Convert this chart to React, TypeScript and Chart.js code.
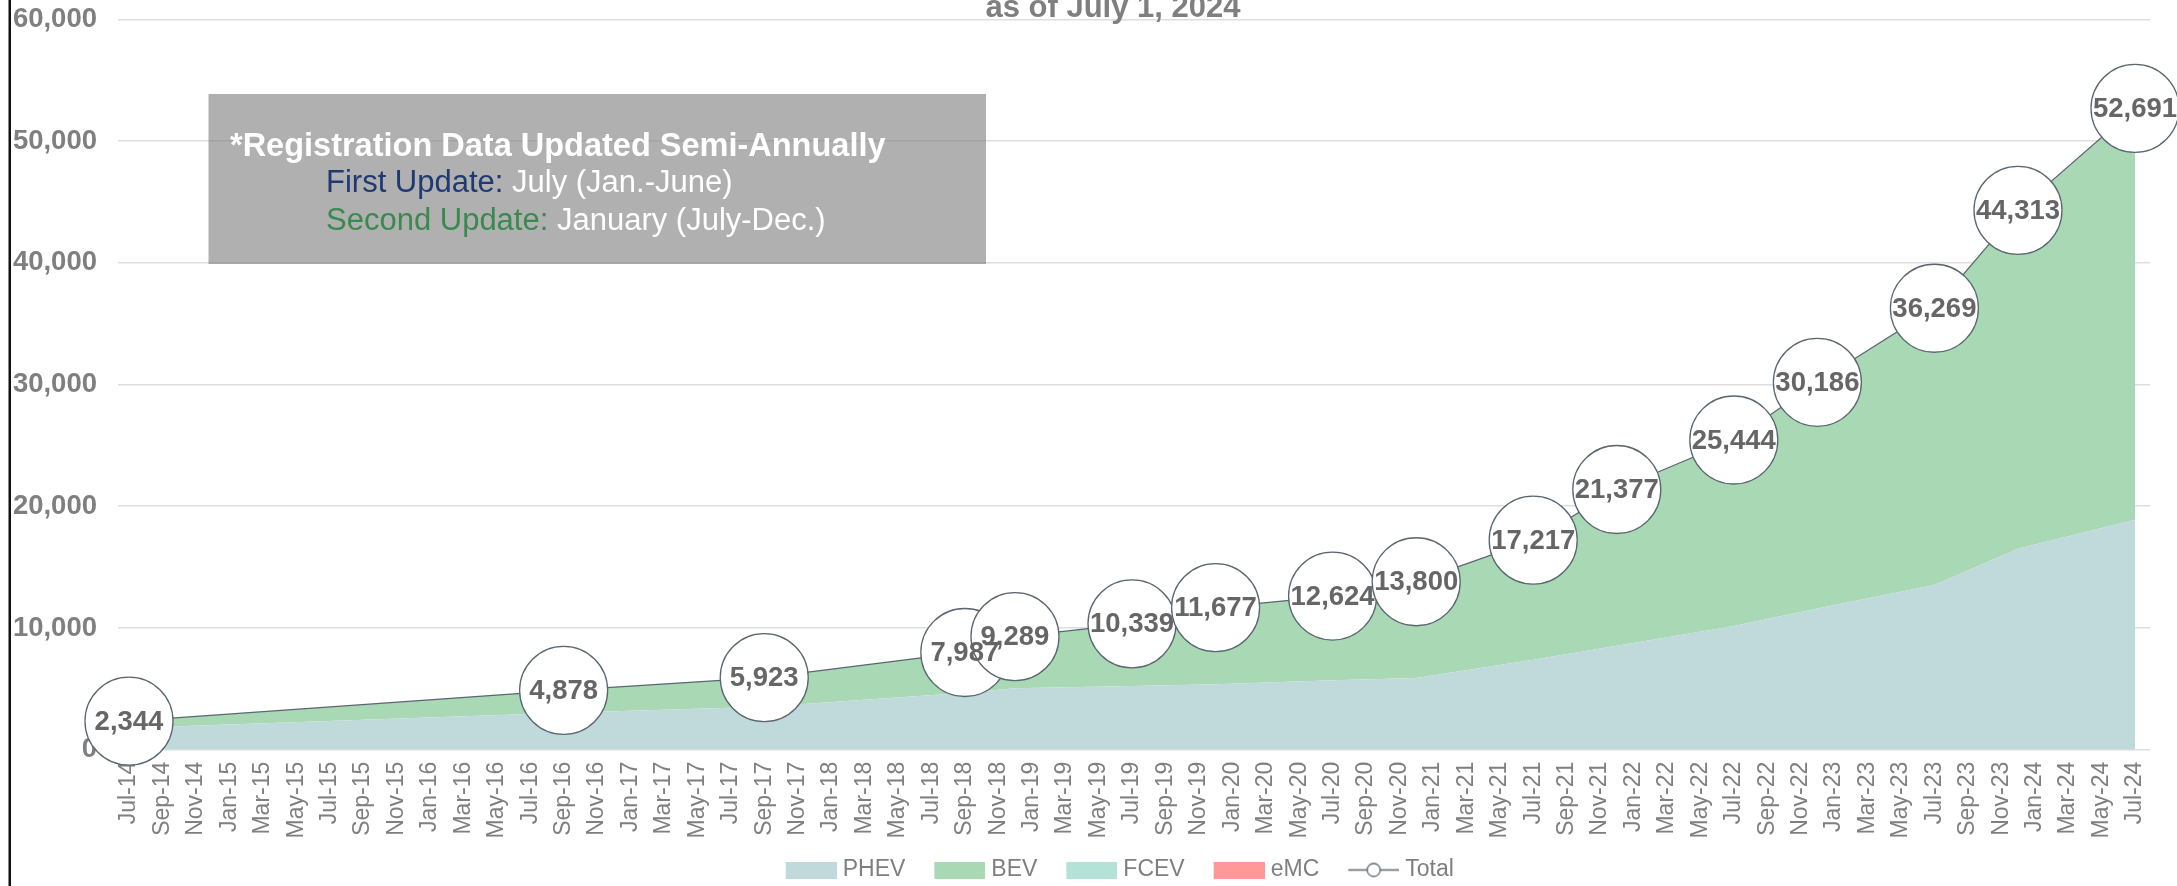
import React, { useEffect, useRef } from 'react';
import { Chart, registerables } from 'chart.js';

Chart.register(...registerables);

// ---------- data ----------
const tickLabels = [
  'Jul-14', 'Sep-14', 'Nov-14', 'Jan-15', 'Mar-15', 'May-15', 'Jul-15', 'Sep-15', 'Nov-15',
  'Jan-16', 'Mar-16', 'May-16', 'Jul-16', 'Sep-16', 'Nov-16', 'Jan-17', 'Mar-17', 'May-17',
  'Jul-17', 'Sep-17', 'Nov-17', 'Jan-18', 'Mar-18', 'May-18', 'Jul-18', 'Sep-18', 'Nov-18',
  'Jan-19', 'Mar-19', 'May-19', 'Jul-19', 'Sep-19', 'Nov-19', 'Jan-20', 'Mar-20', 'May-20',
  'Jul-20', 'Sep-20', 'Nov-20', 'Jan-21', 'Mar-21', 'May-21', 'Jul-21', 'Sep-21', 'Nov-21',
  'Jan-22', 'Mar-22', 'May-22', 'Jul-22', 'Sep-22', 'Nov-22', 'Jan-23', 'Mar-23', 'May-23',
  'Jul-23', 'Sep-23', 'Nov-23', 'Jan-24', 'Mar-24', 'May-24', 'Jul-24',
];

const pointDates = [
  'Jul-14', 'Sep-16', 'Sep-17', 'Sep-18', 'Dec-18', 'Jul-19', 'Dec-19', 'Jul-20',
  'Dec-20', 'Jul-21', 'Dec-21', 'Jul-22', 'Dec-22', 'Jul-23', 'Dec-23', 'Jul-24',
];

const phev = [1790, 3030, 3530, 4670, 5050, 5230, 5370, 5700, 5890, 7400, 8550, 10160, 11600, 13530, 16500, 18900];
const bev = [554, 1848, 2393, 3317, 4239, 5109, 6307, 6924, 7910, 9816, 12816, 15263, 18554, 22697, 27761, 33729];
const fcev = [0, 0, 0, 0, 0, 0, 0, 0, 0, 1, 1, 1, 2, 2, 2, 2];
const emc = [0, 0, 0, 0, 0, 0, 0, 0, 0, 0, 10, 20, 30, 40, 50, 60];
const total = [2344, 4878, 5923, 7987, 9289, 10339, 11677, 12624, 13800, 17217, 21377, 25444, 30186, 36269, 44313, 52691];

const yTicks = [0, 10000, 20000, 30000, 40000, 50000, 60000];

const seriesNames = ['PHEV', 'BEV', 'FCEV', 'eMC', 'Total'];
const areaColors = ['#C0DADB', '#A8D8B4', '#B3E3D6', '#FF9999'];
const totalColor = '#5b6670';

const titleText = 'as of July 1, 2024';
const noteHeader = '*Registration Data Updated Semi-Annually';
const noteRows = [
  { label: 'First Update:', value: ' July (Jan.-June)', color: '#1f3a73' },
  { label: 'Second Update:', value: ' January (July-Dec.)', color: '#3a8a4f' },
];

// ---------- helpers ----------
const MONTHS = ['Jan', 'Feb', 'Mar', 'Apr', 'May', 'Jun', 'Jul', 'Aug', 'Sep', 'Oct', 'Nov', 'Dec'];
function monthIndexOf(label: string): number {
  const [m, y] = label.split('-');
  return (2000 + Number(y) - 2014) * 12 + MONTHS.indexOf(m) - 6;
}
const labelByIndex: Record<number, string> = {};
tickLabels.forEach((l) => { labelByIndex[monthIndexOf(l)] = l; });

const FONT = '"Liberation Sans", Arial, Helvetica, sans-serif';
const W = 2177;
const H = 886;
const ICON_LEAD = 17;
const ICON_W = 51 + ICON_LEAD;

function makeSwatch(color: string): HTMLCanvasElement {
  const c = document.createElement('canvas');
  c.width = ICON_W; c.height = 17;
  const g = c.getContext('2d')!;
  g.fillStyle = color;
  g.fillRect(ICON_LEAD, 0, 51, 17);
  return c;
}
function makeLineIcon(color: string): HTMLCanvasElement {
  const c = document.createElement('canvas');
  c.width = ICON_W; c.height = 17;
  const g = c.getContext('2d')!;
  g.strokeStyle = color;
  g.lineWidth = 1.3;
  g.beginPath(); g.moveTo(ICON_LEAD, 8.5); g.lineTo(ICON_LEAD + 51, 8.5); g.stroke();
  g.beginPath(); g.arc(ICON_LEAD + 25.5, 8.5, 6.5, 0, Math.PI * 2);
  g.fillStyle = '#ffffff'; g.fill(); g.stroke();
  return c;
}

const decorPlugin = {
  id: 'decor',
  afterLayout(chart: any) {
    const lg = chart.legend;
    if (lg) {
      lg.left += 33; lg.right += 33;
      lg.top -= 2; lg.bottom -= 2;
    }
  },
  afterDatasetsDraw(chart: any) {
    const ctx = chart.ctx as CanvasRenderingContext2D;
    const meta = chart.getDatasetMeta(4);
    ctx.save();
    ctx.font = `bold 27.5px ${FONT}`;
    ctx.fillStyle = '#666666';
    ctx.textAlign = 'center';
    ctx.textBaseline = 'middle';
    meta.data.forEach((pt: any, i: number) => {
      ctx.fillText(total[i].toLocaleString('en-US'), pt.x, pt.y + 1);
    });
    ctx.restore();
  },
  afterDraw(chart: any) {
    const ctx = chart.ctx as CanvasRenderingContext2D;
    ctx.save();
    // title (partly cut at top)
    ctx.font = `bold 31px ${FONT}`;
    ctx.fillStyle = '#7f7f7f';
    ctx.textAlign = 'center';
    ctx.textBaseline = 'alphabetic';
    ctx.fillText(titleText, 1113, 17);

    // note box
    ctx.fillStyle = 'rgba(127,127,127,0.62)';
    ctx.fillRect(208.5, 94, 777.5, 170);
    ctx.textAlign = 'left';
    ctx.font = `bold 32.5px ${FONT}`;
    ctx.fillStyle = '#ffffff';
    ctx.fillText(noteHeader, 230, 156);
    ctx.font = `31px ${FONT}`;
    noteRows.forEach((r, i) => {
      const y = 192 + i * 38;
      ctx.fillStyle = r.color;
      ctx.fillText(r.label, 326, y);
      const w = ctx.measureText(r.label).width;
      ctx.fillStyle = '#ffffff';
      ctx.fillText(r.value, 326 + w, y);
    });

    // left frame line
    ctx.fillStyle = '#111111';
    ctx.fillRect(8.5, 0, 2.5, H);
    ctx.restore();
  },
};

export default function App() {
  const ref = useRef<HTMLCanvasElement>(null);

  useEffect(() => {
    const canvas = ref.current;
    if (!canvas) return;
    const xs = pointDates.map(monthIndexOf);
    const toPts = (arr: number[]) => arr.map((v, i) => ({ x: xs[i], y: v }));
    const icons = [...areaColors.map(makeSwatch), makeLineIcon(totalColor)];

    const areaSeries = [phev, bev, fcev, emc];
    const datasets: any[] = areaSeries.map((arr, i) => ({
      label: seriesNames[i],
      data: toPts(arr),
      backgroundColor: areaColors[i],
      borderColor: areaColors[i],
      borderWidth: 0,
      pointRadius: 0,
      pointHoverRadius: 0,
      fill: i === 0 ? 'origin' : '-1',
      stack: 'parts',
      tension: 0,
    }));
    datasets.push({
      label: seriesNames[4],
      data: toPts(total),
      borderColor: totalColor,
      borderWidth: 1.3,
      backgroundColor: '#ffffff',
      pointRadius: 44,
      pointHoverRadius: 44,
      pointBackgroundColor: '#ffffff',
      pointBorderColor: totalColor,
      pointBorderWidth: 1.3,
      fill: false,
      clip: false,
      stack: 'total',
      order: -1,
      tension: 0,
    });

    const chart = new Chart(canvas, {
      type: 'line',
      data: { datasets },
      plugins: [decorPlugin as any],
      options: {
        responsive: false,
        animation: false,
        devicePixelRatio: 1,
        events: [],
        layout: { autoPadding: false, padding: { top: 19.4, left: 12, right: 27, bottom: 0 } },
        scales: {
          x: {
            type: 'linear',
            min: -0.658,
            max: 120.897,
            grid: { display: false, drawTicks: false },
            border: { display: false },
            afterBuildTicks: (scale: any) => {
              scale.ticks = tickLabels.map((l) => ({ value: monthIndexOf(l) }));
            },
            afterFit: (scale: any) => {
              scale.paddingLeft = 0;
              scale.paddingRight = 0;
              scale.height = 93.3;
            },
            ticks: {
              autoSkip: false,
              minRotation: 90,
              maxRotation: 90,
              padding: 12,
              color: '#7f7f7f',
              font: { family: FONT, size: 23 },
              callback: (v: any) => labelByIndex[Math.round(Number(v))] ?? '',
            },
          },
          y: {
            stacked: true,
            min: 0,
            max: 60000,
            afterBuildTicks: (scale: any) => {
              scale.ticks = yTicks.map((v) => ({ value: v }));
            },
            afterFit: (scale: any) => {
              scale.width = 106;
              scale.paddingTop = 0;
              scale.paddingBottom = 0;
            },
            grid: { color: '#dedede', lineWidth: 1.6, drawTicks: false },
            border: { display: false },
            ticks: {
              padding: 21,
              color: '#7f7f7f',
              font: { family: FONT, size: 27.5, weight: 'bold' },
              callback: (v: any) => Number(v).toLocaleString('en-US'),
            },
          },
        },
        plugins: {
          title: { display: false },
          tooltip: { enabled: false },
          legend: {
            display: true,
            position: 'bottom',
            maxHeight: 43,
            labels: {
              usePointStyle: true,
              pointStyleWidth: 57,
              boxHeight: 17,
              padding: 17.5,
              color: '#7f7f7f',
              font: { family: FONT, size: 23 },
              generateLabels: (ch: any) =>
                ch.data.datasets.map((ds: any, i: number) => ({
                  text: ds.label,
                  pointStyle: icons[i],
                  fillStyle: i < 4 ? areaColors[i] : '#ffffff',
                  strokeStyle: 'transparent',
                  lineWidth: 0,
                  hidden: false,
                  datasetIndex: i,
                  fontColor: '#7f7f7f',
                })),
            },
          },
        },
      } as any,
    });
    return () => chart.destroy();
  }, []);

  return (
    <div
      style={{
        position: 'fixed', left: 0, top: 0, width: W, height: H,
        overflow: 'hidden', background: '#ffffff',
      }}
    >
      <canvas ref={ref} width={W} height={H} style={{ display: 'block', width: W, height: H }} />
    </div>
  );
}
